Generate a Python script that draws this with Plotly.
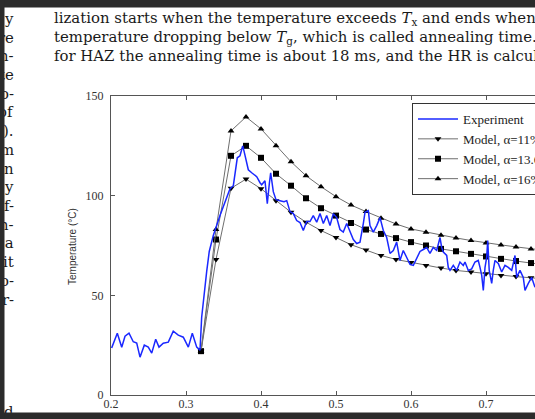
import plotly.graph_objects as go

# ---------------- data ----------------
exp_t = [0.2009, 0.2084, 0.2143, 0.2187, 0.2240, 0.2297, 0.2343, 0.2387, 0.2444, 0.2497,
         0.2543, 0.2596, 0.2640, 0.2697, 0.2764, 0.2830, 0.2897, 0.2964, 0.3031, 0.3084,
         0.3143, 0.3187, 0.3209, 0.3240, 0.3276, 0.3310, 0.3364, 0.3453, 0.3543, 0.3587,
         0.3631, 0.3667, 0.3684, 0.3720, 0.3756, 0.3773, 0.3800, 0.3831, 0.3876, 0.3943,
         0.3987, 0.4009, 0.4053, 0.4084, 0.4111, 0.4129, 0.4164, 0.4200, 0.4253, 0.4307,
         0.4343, 0.4387, 0.4431, 0.4476, 0.4520, 0.4564, 0.4609, 0.4653, 0.4697, 0.4743,
         0.4787, 0.4831, 0.4876, 0.4920, 0.4964, 0.5009, 0.5053, 0.5097, 0.5143, 0.5187,
         0.5231, 0.5276, 0.5320, 0.5364, 0.5387, 0.5431, 0.5453, 0.5497, 0.5543, 0.5587,
         0.5631, 0.5676, 0.5720, 0.5764, 0.5809, 0.5853, 0.5897, 0.5943, 0.5987, 0.6031,
         0.6076, 0.6120, 0.6164, 0.6209, 0.6253, 0.6297, 0.6343, 0.6387, 0.6409, 0.6431,
         0.6476, 0.6497, 0.6520, 0.6564, 0.6609, 0.6653, 0.6697, 0.6720, 0.6764, 0.6809,
         0.6853, 0.6897, 0.6920, 0.6943, 0.6964, 0.6987, 0.7009, 0.7023, 0.7043, 0.7076,
         0.7097, 0.7120, 0.7164, 0.7209, 0.7253, 0.7297, 0.7343, 0.7387, 0.7409, 0.7453,
         0.7497, 0.7520, 0.7564, 0.7609, 0.7653]
exp_T = [23.6, 31, 24, 29.5, 31, 26.7, 26, 19, 25, 24,
         21, 28, 24, 26, 26.5, 32, 30, 29, 24, 31,
         24, 22.5, 39, 51, 62, 72, 80, 90, 99, 103.5,
         105, 114, 119, 120, 125, 122.5, 118, 113, 111.5, 109.5,
         106.5, 105.5, 107.5, 96, 106, 111.5, 102, 98, 97.5, 97,
         97.5, 92, 91, 87.5, 86.5, 82.5, 87, 87, 90, 86.7,
         91, 86, 90, 85, 91, 89, 83, 81.7, 86, 81.7,
         78, 76, 76.7, 86, 91.7, 92.5, 85, 81.7, 85, 89,
         82.5, 79, 71, 72.5, 76.7, 67.5, 72.5, 69, 65.5, 65,
         68.5, 72, 73, 74, 71, 74, 72.5, 79, 74, 71.7,
         70, 64, 62.5, 65, 62.5, 66.7, 65, 66.7, 62.5, 63.3,
         66.7, 67.5, 64, 60, 52.5, 64, 69, 77.5, 62.5, 56,
         62.5, 67.5, 66, 61.7, 65, 64, 62.5, 70, 59, 62.5,
         59, 52.5, 56, 59, 54]

model_t = [0.32, 0.34, 0.36, 0.38, 0.40, 0.42, 0.44, 0.46, 0.48, 0.50, 0.52, 0.54,
           0.56, 0.58, 0.60, 0.62, 0.64, 0.66, 0.68, 0.70, 0.72, 0.74, 0.76, 0.78]
model_11 = [22, 68, 103.7, 108.3, 103.5, 97.5, 91.7, 86.7, 82.5, 79, 75.4, 72.7,
            70, 68, 66.5, 65, 63.7, 62.5, 61.7, 60.8, 60, 59.4, 58.8, 58.2]
model_136 = [22, 78, 120, 125, 119, 111, 105, 98.7, 93.7, 90, 86.3, 83,
             80.8, 78.7, 76.7, 75, 73.3, 72.1, 70.8, 69.5, 68.3, 67.2, 66.2, 65.3]
model_16 = [22, 83, 132.5, 139.5, 133.5, 125, 117, 110, 104.5, 99.5, 95.3, 92,
            88.7, 85.8, 83.3, 81.7, 80.2, 78.8, 77.5, 76.3, 75.3, 74.3, 73.3, 72.5]

x_ticks = [0.2, 0.3, 0.4, 0.5, 0.6, 0.7, 0.8]
x_ticklabels = ["0.2", "0.3", "0.4", "0.5", "0.6", "0.7", "0.8"]
y_ticks = [0, 50, 100, 150]
y_ticklabels = ["0", "50", "100", "150"]

series_names = ["Experiment", "Model, α=11%", "Model, α=13.6%", "Model, α=16%"]

page_lines = [
    "lization starts when the temperature exceeds <i>T</i><sub>x</sub> and ends when the",
    "temperature dropping below <i>T</i><sub>g</sub>, which is called annealing time. As",
    "for HAZ the annealing time is about 18 ms, and the HR is calculated",
]
left_col = ["y", "re", "n-", "te", "o-", "of", ").", "m", "n", "y", "f-", "n-", " a", "it",
            "o-", "r-", "", "", "", "", "", "d"]

# ---------------- layout geometry (pixels) ----------------
W, H = 535, 419
L, R, T, B = 111, 0, 96, 24
PW, PH = W - L - R, H - T - B


def px(x):
    return (x - L) / PW


def py(y):
    return (H - B - y) / PH


fig = go.Figure()

model_line = dict(color="#6e6e6e", width=1)
fig.add_trace(go.Scatter(x=model_t, y=model_11, mode="lines+markers", name=series_names[1],
                         line=model_line, legendrank=2,
                         marker=dict(symbol="triangle-down", size=6, color="#000")))
fig.add_trace(go.Scatter(x=model_t, y=model_136, mode="lines+markers", name=series_names[2],
                         line=model_line, legendrank=3,
                         marker=dict(symbol="square", size=6, color="#000")))
fig.add_trace(go.Scatter(x=model_t, y=model_16, mode="lines+markers", name=series_names[3],
                         line=model_line, legendrank=4,
                         marker=dict(symbol="triangle-up", size=6, color="#000")))
fig.add_trace(go.Scatter(x=exp_t, y=exp_T, mode="lines", name=series_names[0],
                         line=dict(color="#1a28ff", width=1.5), legendrank=1))

axis_font = dict(family="Liberation Serif", size=12, color="#333")
fig.update_xaxes(range=[0.2, 0.2 + PW / 750.0], tickvals=x_ticks, ticktext=x_ticklabels,
                 ticks="inside", ticklen=4, tickcolor="#555", showline=True,
                 linecolor="#555", linewidth=1, mirror="ticks", showgrid=False,
                 zeroline=False, tickfont=axis_font, ticklabelstandoff=-2)
fig.update_yaxes(range=[0, 150], tickvals=y_ticks, ticktext=y_ticklabels,
                 ticks="inside", ticklen=4, tickcolor="#555", showline=True,
                 linecolor="#555", linewidth=1, mirror=False, showgrid=False,
                 zeroline=False, tickfont=axis_font, ticklabelstandoff=4)

frame = "#2b2b2b"
fig.add_shape(type="rect", xref="paper", yref="paper", x0=px(-5), x1=px(545),
              y0=py(7.5), y1=py(-5), fillcolor=frame, line_width=0, layer="above")
fig.add_shape(type="rect", xref="paper", yref="paper", x0=px(-5), x1=px(4),
              y0=py(430), y1=py(-5), fillcolor=frame, line_width=0, layer="above")

ann = []
text_font = dict(family="DejaVu Serif", size=14.9, color="#1a1a1a")
for i, s in enumerate(page_lines):
    ann.append(dict(text=s, x=px(52), y=py(19 + i * 18.7), xref="paper", yref="paper",
                    xanchor="left", yanchor="middle", showarrow=False, font=text_font))
for i, s in enumerate(left_col):
    if s:
        ann.append(dict(text=s, x=px(16), y=py(19 + i * 18.7), xref="paper", yref="paper",
                        xanchor="right", yanchor="middle", showarrow=False, font=text_font))
# axis titles
ann.append(dict(text="Temperature (°C)", x=px(72), y=py(247), xref="paper", yref="paper",
                textangle=-90, showarrow=False, xanchor="center", yanchor="middle",
                font=dict(family="Liberation Sans", size=10, color="#333")))
ann.append(dict(text="Time (s)", x=px(331), y=py(417), xref="paper", yref="paper",
                showarrow=False, xanchor="center", yanchor="middle",
                font=dict(family="Liberation Sans", size=10, color="#333")))
# dark scan frame drawn over page text
ann.append(dict(text="&nbsp;", x=px(267), y=py(419), xref="paper", yref="paper",
                width=560, height=12, bgcolor=frame, borderpad=0, showarrow=False,
                xanchor="center", yanchor="middle"))
ann.append(dict(text="&nbsp;", x=px(2), y=py(210), xref="paper", yref="paper",
                width=4, height=440, bgcolor=frame, borderpad=0, showarrow=False,
                xanchor="center", yanchor="middle"))

fig.update_layout(
    width=W, height=H, margin=dict(l=L, r=R, t=T, b=B, pad=0, autoexpand=False),
    paper_bgcolor="white", plot_bgcolor="white",
    showlegend=True,
    legend=dict(x=px(412), y=py(103), xanchor="left", yanchor="top",
                bgcolor="white", bordercolor="#333", borderwidth=1,
                font=dict(family="Liberation Serif", size=13, color="#222"),
                itemwidth=40, tracegroupgap=0),
    annotations=ann,
)

fig.write_html("out.html", config={"displayModeBar": False},
               post_script="document.body.style.margin='0';document.body.style.overflow='hidden';")
